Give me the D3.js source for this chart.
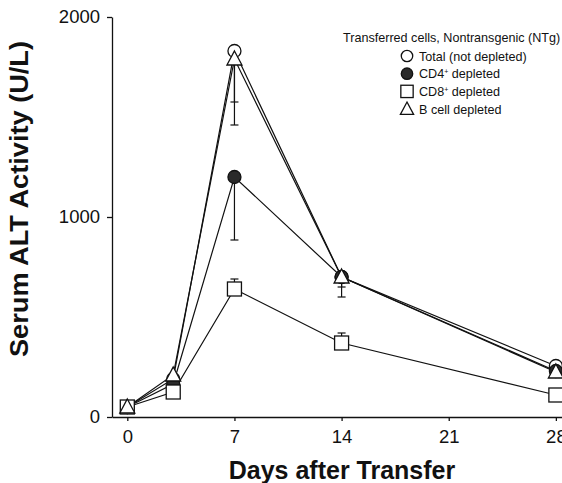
<!DOCTYPE html>
<html>
<head>
<meta charset="utf-8">
<script src="https://cdn.jsdelivr.net/npm/d3@7"></script>
<style>
  body { margin: 0; background: #fff; }
  svg { display: block; font-family: "Liberation Sans", Arial, sans-serif; }
</style>
</head>
<body>
<div class="visHolder"></div>
<script>
// values
const days = [0, 3, 7, 14, 28];
const total = [50, 190, 1830, 700, 255];
const cd4 = [50, 165, 1200, 700, 230];
const cd8 = [50, 125, 640, 370, 110];
const bcell = [50, 210, 1790, 700, 225];
// error bar lengths (drawn one side only)
const totalErr = [0, 0, 370, 100, 0];
const cd4Err = [0, 0, 315, 0, 0];
const cd8Err = [0, 0, 50, 50, 0];
const bcellErr = [0, 0, 215, 50, 0];
const xTicks = [0, 7, 14, 21, 28];
const yTicks = [0, 1000, 2000];
const legendTitle = 'Transferred cells, Nontransgenic (NTg)';

const width = 562;
const height = 483;

const series = [
  { name: 'Total (not depleted)', values: total, err: totalErr, dir: -1, shape: 'circle', fill: '#fff' },
  { name: 'CD4', values: cd4, err: cd4Err, dir: -1, shape: 'circle', fill: '#2a2a2a' },
  { name: 'CD8', values: cd8, err: cd8Err, dir: 1, shape: 'square', fill: '#fff' },
  { name: 'B cell depleted', values: bcell, err: bcellErr, dir: -1, shape: 'triangle', fill: '#fff' }
];

const svg = d3.select('.visHolder')
  .append('svg')
  .attr('width', width)
  .attr('height', height);

const xScale = d3.scaleLinear().domain([-1, 28.4]).range([112, 562]);
const yScale = d3.scaleLinear().domain([0, 2000]).range([417, 17]);

const xAxis = d3.axisBottom(xScale).tickValues(xTicks).tickFormat(d3.format('d'))
  .tickSize(4).tickSizeOuter(0).tickPadding(9);
const yAxis = d3.axisLeft(yScale).tickValues(yTicks).tickFormat(d3.format('d'))
  .tickSize(5).tickSizeOuter(0).tickPadding(7);

svg.append('g')
  .attr('transform', 'translate(0,417)')
  .call(xAxis)
  .call(g => g.selectAll('text').attr('font-size', 18.5).attr('fill', '#111'))
  .call(g => g.selectAll('path, line').attr('stroke', '#111').attr('stroke-width', 1.3));

svg.append('g')
  .attr('transform', 'translate(112,0)')
  .call(yAxis)
  .call(g => g.selectAll('text').attr('font-size', 18.5).attr('fill', '#111'))
  .call(g => g.selectAll('path, line').attr('stroke', '#111').attr('stroke-width', 1.3));

svg.append('text')
  .attr('transform', 'translate(28,199) rotate(-90)')
  .attr('text-anchor', 'middle')
  .attr('font-size', 25)
  .attr('font-weight', 'bold')
  .attr('fill', '#111')
  .attr('textLength', 316)
  .attr('lengthAdjust', 'spacingAndGlyphs')
  .text('Serum ALT Activity (U/L)');

svg.append('text')
  .attr('x', 342)
  .attr('y', 479)
  .attr('text-anchor', 'middle')
  .attr('font-size', 25)
  .attr('font-weight', 'bold')
  .attr('fill', '#111')
  .text('Days after Transfer');

const line = d3.line()
  .x((d, i) => xScale(days[i]))
  .y(d => yScale(d));

series.forEach(s => {
  svg.append('path')
    .attr('d', line(s.values))
    .attr('fill', 'none')
    .attr('stroke', '#111')
    .attr('stroke-width', 1.2);
});

// error bars
series.forEach(s => {
  s.err.forEach((e, i) => {
    if (!e) return;
    const x = xScale(days[i]);
    const y0 = yScale(s.values[i]);
    const y1 = yScale(s.values[i] + s.dir * e);
    svg.append('line')
      .attr('x1', x).attr('x2', x).attr('y1', y0).attr('y2', y1)
      .attr('stroke', '#111').attr('stroke-width', 1.2);
    svg.append('line')
      .attr('x1', x - 4).attr('x2', x + 4).attr('y1', y1).attr('y2', y1)
      .attr('stroke', '#111').attr('stroke-width', 1.2);
  });
});

function drawMarker(g, shape, x, y, fill, k) {
  if (shape === 'circle') {
    g.append('circle').attr('cx', x).attr('cy', y).attr('r', 6.5 * k)
      .attr('fill', fill).attr('stroke', '#111').attr('stroke-width', 1.3);
  } else if (shape === 'square') {
    g.append('rect').attr('x', x - 7 * k).attr('y', y - 7 * k).attr('width', 14 * k).attr('height', 14 * k)
      .attr('fill', fill).attr('stroke', '#111').attr('stroke-width', 1.3);
  } else {
    g.append('path')
      .attr('d', `M${x},${y - 8 * k}L${x + 7.5 * k},${y + 6 * k}L${x - 7.5 * k},${y + 6 * k}Z`)
      .attr('fill', fill).attr('stroke', '#111').attr('stroke-width', 1.3);
  }
}

const marks = svg.append('g');
series.forEach(s => {
  s.values.forEach((v, i) => drawMarker(marks, s.shape, xScale(days[i]), yScale(v), s.fill, 1));
});

// legend
const legend = svg.append('g').attr('font-size', 12.6).attr('fill', '#111');
legend.append('text')
  .attr('x', 343).attr('y', 42)
  .text(legendTitle);

const rows = [
  { label: 'Total (not depleted)', sup: '' },
  { label: 'CD4', sup: '+', rest: ' depleted' },
  { label: 'CD8', sup: '+', rest: ' depleted' },
  { label: 'B cell depleted', sup: '' }
];
rows.forEach((r, i) => {
  const y = 56 + i * 17.7;
  drawMarker(legend, series[i].shape, 407, y, series[i].fill, 0.88);
  const t = legend.append('text').attr('x', 419).attr('y', y + 4.5);
  t.append('tspan').text(r.label);
  if (r.sup) {
    t.append('tspan').attr('font-size', 7).attr('dy', -4).text(r.sup);
    t.append('tspan').attr('dy', 4).text(r.rest);
  }
});
</script>
</body>
</html>
